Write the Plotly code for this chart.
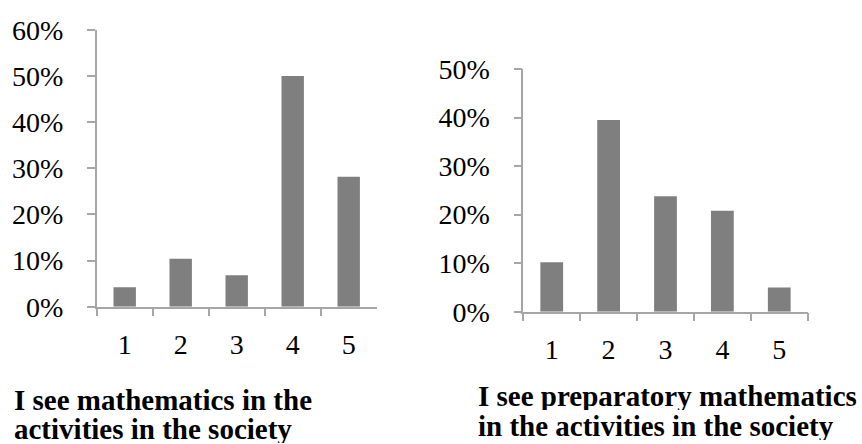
import plotly.graph_objects as go
from plotly.subplots import make_subplots

# Response scale (1-5) and share of respondents per response
categories = ["1", "2", "3", "4", "5"]
society_math = [0.042, 0.104, 0.068, 0.500, 0.282]
preparatory_math = [0.102, 0.395, 0.238, 0.208, 0.050]

title_left = ["I see mathematics in the", "activities in the society"]
title_right = ["I see preparatory mathematics", "in the activities in the society"]

W, H = 862, 444
BAR_COLOR = "#7f7f7f"
AXIS_COLOR = "#a6a6a6"
FONT = "Liberation Serif, Times New Roman, serif"


def px_x(p):
    return p / W


def px_y(p):
    return 1 - p / H


fig = make_subplots(rows=1, cols=2)

fig.add_trace(go.Bar(x=categories, y=society_math, marker_color=BAR_COLOR,
                     marker_line_width=0, width=0.4), row=1, col=1)
fig.add_trace(go.Bar(x=categories, y=preparatory_math, marker_color=BAR_COLOR,
                     marker_line_width=0, width=0.4), row=1, col=2)

axis_common = dict(
    showline=True, linecolor=AXIS_COLOR, linewidth=1.5,
    ticks="outside", ticklen=8, tickcolor=AXIS_COLOR, tickwidth=1.5,
    showgrid=False, zeroline=False, automargin=False,
    tickfont=dict(family=FONT, size=28, color="black"),
)

fig.update_xaxes(**axis_common, type="category", tickson="boundaries",
                 range=[-0.5, 4.5], ticklabelstandoff=12)
fig.update_yaxes(**axis_common, tickformat=".0%", dtick=0.1,
                 ticklabelstandoff=18)

fig.update_layout(
    xaxis=dict(domain=[px_x(96.7), px_x(376.7)]),
    yaxis=dict(domain=[px_y(306.7), px_y(30)], range=[0, 0.6]),
    xaxis2=dict(domain=[px_x(523.3), px_x(807.7)]),
    yaxis2=dict(domain=[px_y(311.7), px_y(69)], range=[0, 0.5]),
)

# Each title line is its own box, sized to the line pitch
annotations = []
for text, xp, yp in [(title_left[0], 12.7, 400), (title_left[1], 12.7, 429),
                     (title_right[0], 476.7, 396), (title_right[1], 476.7, 426)]:
    annotations.append(dict(
        text="<b>" + text + "</b>", xref="paper", yref="paper",
        x=px_x(xp), y=px_y(yp), xanchor="left", yanchor="middle",
        height=28, borderpad=0,
        showarrow=False, font=dict(family=FONT, size=29, color="black"),
    ))

fig.update_layout(
    width=W, height=H, showlegend=False,
    margin=dict(l=0, r=0, t=0, b=0, autoexpand=False),
    paper_bgcolor="white", plot_bgcolor="white",
    annotations=annotations,
)

fig.write_html("out.html")
